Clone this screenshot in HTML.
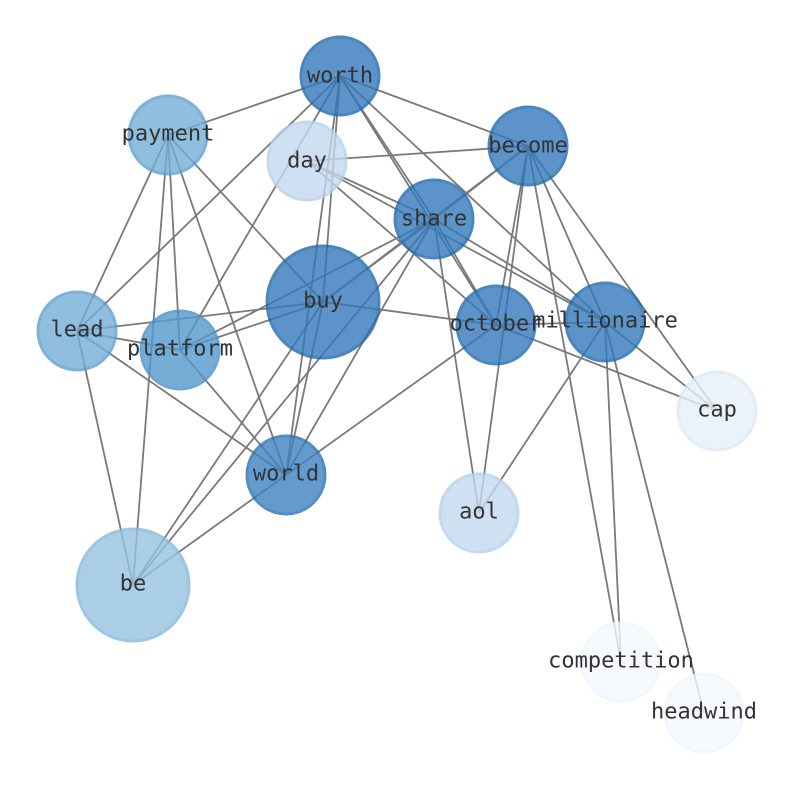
<!DOCTYPE html>
<html><head><style>
html,body{margin:0;padding:0;background:#fff;}
text{font-family:"DejaVu Sans Mono","Liberation Mono",monospace;font-size:22px;fill:#333;text-anchor:middle;dominant-baseline:central;}
</style></head><body>
<svg width="794" height="790" viewBox="0 0 794 790" xmlns="http://www.w3.org/2000/svg">
<g stroke="#7a7a7a" stroke-width="1.8">
<line x1="340" y1="76" x2="168" y2="135"/>
<line x1="340" y1="76" x2="77" y2="331"/>
<line x1="340" y1="76" x2="180" y2="350"/>
<line x1="340" y1="76" x2="323" y2="302"/>
<line x1="340" y1="76" x2="286" y2="475"/>
<line x1="340" y1="76" x2="528" y2="146"/>
<line x1="340" y1="76" x2="434" y2="219"/>
<line x1="340" y1="76" x2="496" y2="325"/>
<line x1="340" y1="76" x2="605" y2="322"/>
<line x1="168" y1="135" x2="77" y2="331"/>
<line x1="168" y1="135" x2="180" y2="350"/>
<line x1="168" y1="135" x2="133" y2="585"/>
<line x1="168" y1="135" x2="286" y2="475"/>
<line x1="168" y1="135" x2="323" y2="302"/>
<line x1="307" y1="161" x2="528" y2="146"/>
<line x1="307" y1="161" x2="434" y2="219"/>
<line x1="307" y1="161" x2="605" y2="322"/>
<line x1="307" y1="161" x2="496" y2="325"/>
<line x1="528" y1="146" x2="434" y2="219"/>
<line x1="528" y1="146" x2="323" y2="302"/>
<line x1="528" y1="146" x2="496" y2="325"/>
<line x1="528" y1="146" x2="479" y2="513"/>
<line x1="528" y1="146" x2="605" y2="322"/>
<line x1="528" y1="146" x2="717" y2="411"/>
<line x1="528" y1="146" x2="621" y2="662"/>
<line x1="434" y1="219" x2="323" y2="302"/>
<line x1="434" y1="219" x2="180" y2="350"/>
<line x1="434" y1="219" x2="496" y2="325"/>
<line x1="434" y1="219" x2="605" y2="322"/>
<line x1="434" y1="219" x2="286" y2="475"/>
<line x1="434" y1="219" x2="133" y2="585"/>
<line x1="434" y1="219" x2="479" y2="513"/>
<line x1="323" y1="302" x2="77" y2="331"/>
<line x1="323" y1="302" x2="180" y2="350"/>
<line x1="323" y1="302" x2="286" y2="475"/>
<line x1="323" y1="302" x2="496" y2="325"/>
<line x1="323" y1="302" x2="133" y2="585"/>
<line x1="77" y1="331" x2="180" y2="350"/>
<line x1="77" y1="331" x2="286" y2="475"/>
<line x1="77" y1="331" x2="133" y2="585"/>
<line x1="180" y1="350" x2="286" y2="475"/>
<line x1="496" y1="325" x2="605" y2="322"/>
<line x1="496" y1="325" x2="717" y2="411"/>
<line x1="496" y1="325" x2="286" y2="475"/>
<line x1="605" y1="322" x2="717" y2="411"/>
<line x1="605" y1="322" x2="479" y2="513"/>
<line x1="605" y1="322" x2="621" y2="662"/>
<line x1="605" y1="322" x2="704" y2="713"/>
<line x1="286" y1="475" x2="133" y2="585"/>
</g>
<g stroke-width="3" opacity="0.8">
<circle cx="340" cy="76" r="39" fill="#3479bb" stroke="#1f6aad"/>
<circle cx="168" cy="135" r="39" fill="#74aed7" stroke="#5b9fcf"/>
<circle cx="307" cy="161" r="39" fill="#c3d9ee" stroke="#b5d0ea"/>
<circle cx="528" cy="146" r="39" fill="#3479bb" stroke="#1f6aad"/>
<circle cx="434" cy="219" r="39" fill="#3479bb" stroke="#1f6aad"/>
<circle cx="323" cy="302" r="56" fill="#3479bb" stroke="#1f6aad"/>
<circle cx="77" cy="331" r="39" fill="#74aed7" stroke="#5b9fcf"/>
<circle cx="180" cy="350" r="39" fill="#5599cc" stroke="#4a91c8"/>
<circle cx="496" cy="325" r="39" fill="#3479bb" stroke="#1f6aad"/>
<circle cx="605" cy="322" r="39" fill="#3479bb" stroke="#1f6aad"/>
<circle cx="717" cy="411" r="39" fill="#e6eff9" stroke="#dde9f6"/>
<circle cx="286" cy="475" r="39" fill="#3f83c0" stroke="#2a71b1"/>
<circle cx="479" cy="513" r="39" fill="#c3d9ee" stroke="#b5d0ea"/>
<circle cx="133" cy="585" r="56" fill="#96c3e1" stroke="#86b9dc"/>
<circle cx="621" cy="662" r="39" fill="#f5f9fe" stroke="#f0f6fd"/>
<circle cx="704" cy="713" r="39" fill="#f5f9fe" stroke="#f0f6fd"/>
</g>
<text x="340" y="76">worth</text>
<text x="168" y="134">payment</text>
<text x="307" y="161">day</text>
<text x="528" y="146">become</text>
<text x="434" y="219">share</text>
<text x="323" y="301">buy</text>
<text x="77" y="330">lead</text>
<text x="180" y="349">platform</text>
<text x="496" y="324">october</text>
<text x="605" y="321">millionaire</text>
<text x="717" y="410">cap</text>
<text x="286" y="474">world</text>
<text x="479" y="512">aol</text>
<text x="133" y="584">be</text>
<text x="621" y="661">competition</text>
<text x="704" y="712">headwind</text>
</svg>
</body></html>
